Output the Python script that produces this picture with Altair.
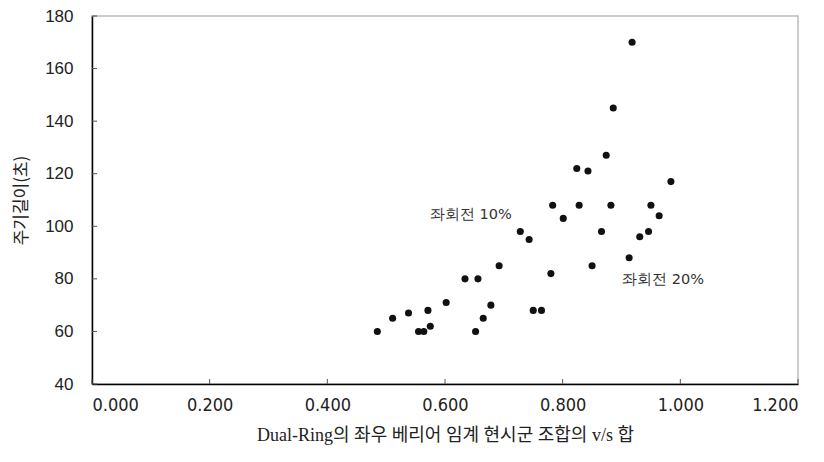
import altair as alt
import pandas as pd

# data
vs_sum = [0.918, 0.886, 0.874, 0.824, 0.843, 0.984, 0.783, 0.828, 0.882, 0.950,
          0.801, 0.964, 0.728, 0.743, 0.866, 0.931, 0.946, 0.913, 0.692, 0.780,
          0.850, 0.656, 0.678, 0.665, 0.652, 0.750, 0.764,
          0.485, 0.511, 0.538, 0.555, 0.564, 0.571, 0.575, 0.602, 0.634]
cycle = [170, 145, 127, 122, 121, 117, 108, 108, 108, 108,
         103, 104, 98, 95, 98, 96, 98, 88, 85, 82,
         85, 80, 70, 65, 60, 68, 68,
         60, 65, 67, 60, 60, 68, 62, 71, 80]

label_text = ["좌회전 10%", "좌회전 20%"]
label_x = [0.5745, 0.901]
label_y = [104.3, 79.6]

x_ticks = [0.0, 0.2, 0.4, 0.6, 0.8, 1.0, 1.2]
y_ticks = [40, 60, 80, 100, 120, 140, 160, 180]

pts = pd.DataFrame({"x": vs_sum, "y": cycle})
labels = pd.DataFrame({"x": label_x, "y": label_y, "t": label_text})
xt = pd.DataFrame({"v": x_ticks})
yt = pd.DataFrame({"v": y_ticks})

xs = alt.Scale(domain=[0, 1.2], nice=False, zero=False)
ys = alt.Scale(domain=[40, 180], nice=False, zero=False)

x_axis = alt.Axis(values=x_ticks, format=".3f", ticks=False, grid=False,
                  domainColor="#000", domainWidth=1.5,
                  labelFont="DejaVu Sans Condensed", labelFontSize=18, labelColor="#222",
                  labelPadding=12,
                  titleFont="Liberation Serif, Noto Sans CJK KR", titleFontSize=18,
                  titleFontWeight="normal", titleColor="#222", titlePadding=12)
y_axis = alt.Axis(values=y_ticks, format="d", ticks=False, grid=False,
                  domainColor="#000", domainWidth=1.5,
                  labelFont="Liberation Sans", labelFontSize=17, labelColor="#222",
                  labelPadding=19, titleFont="Noto Sans CJK KR", titleFontSize=17,
                  titleFontWeight="normal", titleColor="#222", titlePadding=14)

points = alt.Chart(pts).mark_circle(size=50, color="#111", opacity=1).encode(
    x=alt.X("x:Q", scale=xs, axis=x_axis, title="Dual-Ring의 좌우 베리어 임계 현시군 조합의 v/s 합"),
    y=alt.Y("y:Q", scale=ys, axis=y_axis, title="주기길이(초)"),
)

texts = alt.Chart(labels).mark_text(align="left", baseline="middle", fontSize=14.5,
                                    font="DejaVu Sans", color="#333").encode(
    x=alt.X("x:Q", scale=xs), y=alt.Y("y:Q", scale=ys), text="t:N")

xtick = alt.Chart(xt).mark_rule(color="#555", strokeWidth=1).encode(
    x=alt.X("v:Q", scale=xs), y=alt.value(368), y2=alt.value(363))
ytick = alt.Chart(yt).mark_rule(color="#555", strokeWidth=1).encode(
    y=alt.Y("v:Q", scale=ys), x=alt.value(0), x2=alt.value(5))

chart = alt.layer(xtick, ytick, points, texts).properties(
    width=706, height=368,
    padding={"left": 84, "top": 8, "right": 18, "bottom": 70},
    autosize=alt.AutoSizeParams(type="none"),
    background="white",
).configure_view(stroke="#bbb", strokeWidth=1.5)

chart.save("out.html", embed_options={"renderer": "svg", "actions": False})
